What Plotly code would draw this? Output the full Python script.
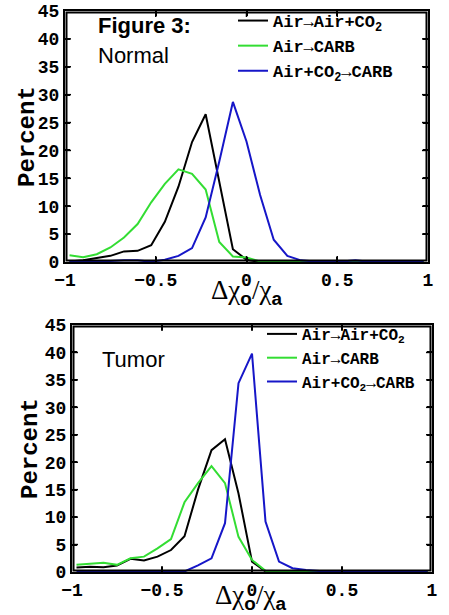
import plotly.graph_objects as go

# ---- data ----
x_bins = [-0.975, -0.9, -0.825, -0.75, -0.675, -0.6, -0.525, -0.45, -0.375, -0.3,
          -0.225, -0.15, -0.075, 0.0, 0.075, 0.15, 0.225, 0.3, 0.375, 0.45,
          0.525, 0.6, 0.675, 0.75, 0.825, 0.9, 0.975]

series_names = ["Air\u2192Air+CO<sub>2</sub>", "Air\u2192CARB", "Air+CO<sub>2</sub>\u2192CARB"]

normal_air_co2 = [0.1, 0.3, 0.7, 1.1, 1.9, 2.0, 3.0, 7.2, 13.5, 21.5,
                  26.5, 14.4, 2.3, 0.4, 0.0, 0.0, 0.0, 0.0, 0.0, 0.0,
                  0.0, 0.0, 0.0, 0.0, 0.0, 0.0, 0.0]
normal_air_carb = [1.2, 0.85, 1.4, 2.6, 4.4, 6.8, 10.7, 14.0, 16.6, 15.8,
                   13.0, 3.6, 1.0, 0.8, 0.1, 0.0, 0.0, 0.0, 0.0, 0.0,
                   0.0, 0.0, 0.0, 0.0, 0.0, 0.0, 0.0]
normal_co2_carb = [0.1, 0.1, 0.1, 0.2, 0.3, 0.3, 0.05, 0.4, 1.1, 2.5,
                   8.0, 18.0, 28.7, 21.6, 12.0, 4.0, 1.1, 0.3, 0.1, 0.1,
                   0.1, 0.3, 0.05, 0.0, 0.0, 0.0, 0.0]

tumor_air_co2 = [0.8, 0.95, 0.85, 1.2, 2.4, 2.1, 2.8, 4.0, 6.5, 15.0,
                 22.2, 24.2, 14.3, 1.9, 0.1, 0.0, 0.0, 0.0, 0.0, 0.0,
                 0.0, 0.0, 0.0, 0.0, 0.0, 0.0, 0.0]
tumor_air_carb = [1.3, 1.55, 1.7, 1.3, 2.5, 2.8, 4.3, 6.0, 12.7, 16.2,
                  19.3, 16.2, 6.4, 2.2, 0.2, 0.0, 0.0, 0.0, 0.0, 0.0,
                  0.0, 0.0, 0.0, 0.0, 0.0, 0.0, 0.0]
tumor_co2_carb = [0.1, 0.1, 0.1, 0.1, 0.1, 0.1, 0.1, 0.1, 0.1, 1.2,
                  2.5, 8.9, 34.4, 39.8, 9.2, 1.9, 0.7, 0.35, 0.2, 0.2,
                  0.2, 0.1, 0.0, 0.0, 0.0, 0.0, 0.0]

x_tickvals = [-1, -0.5, 0, 0.5, 1]
x_ticktext = ["\u22121", "\u22120.5", "0", "0.5", "1"]
y_tickvals = [0, 5, 10, 15, 20, 25, 30, 35, 40, 45]
y_ticktext = ["0", "5", "10", "15", "20", "25", "30", "35", "40", "45"]
x_range = [-1, 1]
y_range = [0, 45]

colors = ["#000000", "#33dd33", "#1616c8"]

# ---- figure ----
fig = go.Figure()

for name, vals, col in zip(series_names, [normal_air_co2, normal_air_carb, normal_co2_carb], colors):
    fig.add_trace(go.Scatter(x=x_bins, y=vals, mode="lines", name="<b>" + name + "</b>",
                             line=dict(color=col, width=2), xaxis="x", yaxis="y", legend="legend"))
for name, vals, col in zip(series_names, [tumor_air_co2, tumor_air_carb, tumor_co2_carb], colors):
    fig.add_trace(go.Scatter(x=x_bins, y=vals, mode="lines", name="<b>" + name + "</b>",
                             line=dict(color=col, width=2), xaxis="x2", yaxis="y2", legend="legend2"))

tickfont = dict(family="Liberation Mono", size=18, color="black", weight="bold")
common = dict(showline=True, linecolor="#000000", linewidth=2, mirror="ticks",
              ticks="inside", ticklen=5, tickwidth=1.5, tickcolor="#000000",
              zeroline=False, showgrid=False, tickfont=tickfont, automargin=False,
              layer="above traces")

fig.update_layout(
    width=449, height=615,
    margin=dict(l=0, r=0, t=0, b=0, autoexpand=False),
    paper_bgcolor="white", plot_bgcolor="rgba(0,0,0,0)",
    xaxis=dict(domain=[65 / 449, 428 / 449], range=x_range, anchor="y",
               tickvals=x_tickvals, ticktext=x_ticktext, **common),
    yaxis=dict(domain=[1 - 262 / 615, 1 - 11 / 615], range=y_range, anchor="x",
               tickvals=y_tickvals, ticktext=y_ticktext, **common),
    xaxis2=dict(domain=[72 / 449, 432 / 449], range=x_range, anchor="y2",
                tickvals=x_tickvals, ticktext=x_ticktext, **common),
    yaxis2=dict(domain=[1 - 572 / 615, 1 - 325 / 615], range=y_range, anchor="x2",
                tickvals=y_tickvals, ticktext=y_ticktext, **common),
    legend=dict(x=233 / 449, y=1 - 3 / 615, xanchor="left", yanchor="top",
                bgcolor="rgba(0,0,0,0)", borderwidth=0, tracegroupgap=0,
                font=dict(family="Liberation Mono", size=17, color="black")),
    legend2=dict(x=262 / 449, y=1 - 317 / 615, xanchor="left", yanchor="top",
                 bgcolor="rgba(0,0,0,0)", borderwidth=0, tracegroupgap=0,
                 font=dict(family="Liberation Mono", size=16, color="black")),
    showlegend=True,
)

# box frame (slightly inset) and inward tick marks for each panel
panels = [("x", "y", 363, 251), ("x2", "y2", 360, 247)]
for xa, ya, wpx, hpx in panels:
    ix, iy = 1.5 / wpx, 1.5 / hpx
    fig.add_shape(type="rect", xref=xa + " domain", yref=ya + " domain",
                  x0=ix, x1=1 - ix, y0=iy, y1=1 - iy,
                  line=dict(color="#000000", width=2), layer="above")
    tx = 6 / hpx
    for v in x_tickvals[1:-1]:
        fig.add_shape(type="line", xref=xa, yref=ya + " domain", x0=v, x1=v, y0=iy, y1=tx,
                      line=dict(color="#000000", width=1.5), layer="above")
        fig.add_shape(type="line", xref=xa, yref=ya + " domain", x0=v, x1=v, y0=1 - iy, y1=1 - tx,
                      line=dict(color="#000000", width=1.5), layer="above")
    ty = 6 / wpx
    for v in y_tickvals[1:-1]:
        fig.add_shape(type="line", xref=xa + " domain", yref=ya, x0=ix, x1=ty, y0=v, y1=v,
                      line=dict(color="#000000", width=1.5), layer="above")
        fig.add_shape(type="line", xref=xa + " domain", yref=ya, x0=1 - ix, x1=1 - ty, y0=v, y1=v,
                      line=dict(color="#000000", width=1.5), layer="above")

xlabel = ("\u0394\u03c7<sub><span style=\"font-family:Liberation Sans\"><b>o</b></span></sub>"
          "/\u03c7<sub><span style=\"font-family:Liberation Sans\"><b>a</b></span></sub>")

annotations = [
    dict(text="<b>Figure 3:</b>", x=96 / 449, y=1 - 26 / 615, xanchor="left", yanchor="middle",
         font=dict(family="Liberation Sans", size=22, color="black")),
    dict(text="Normal", x=96 / 449, y=1 - 55 / 615, xanchor="left", yanchor="middle",
         font=dict(family="Liberation Sans", size=22, color="black")),
    dict(text="Tumor", x=100 / 449, y=1 - 359 / 615, xanchor="left", yanchor="middle",
         font=dict(family="Liberation Sans", size=22, color="black")),
    dict(text="<b>Percent</b>", x=27 / 449, y=1 - 137 / 615, textangle=-90,
         xanchor="center", yanchor="middle",
         font=dict(family="Liberation Mono", size=24, color="black")),
    dict(text="<b>Percent</b>", x=30 / 449, y=1 - 449 / 615, textangle=-90,
         xanchor="center", yanchor="middle",
         font=dict(family="Liberation Mono", size=24, color="black")),
    dict(text=xlabel, x=246 / 449, y=1 - 292 / 615, xanchor="center", yanchor="middle",
         font=dict(family="Liberation Serif", size=27, color="black")),
    dict(text=xlabel, x=250 / 449, y=1 - 597 / 615, xanchor="center", yanchor="middle",
         font=dict(family="Liberation Serif", size=27, color="black")),
]
for a in annotations:
    a.update(xref="paper", yref="paper", showarrow=False)
fig.update_layout(annotations=annotations)

fig.write_html("out.html", config={"displayModeBar": False},
               post_script="document.body.style.margin='0px';")
